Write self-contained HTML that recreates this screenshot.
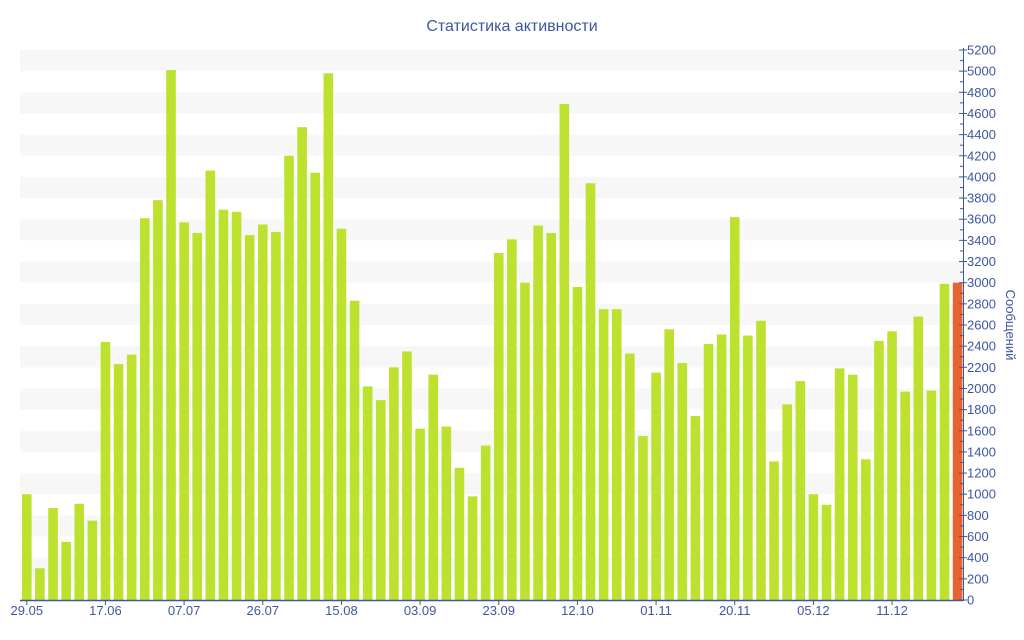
<!DOCTYPE html>
<html><head><meta charset="utf-8"><style>
html,body{margin:0;padding:0;background:#fff;}
svg{display:block;font-family:"Liberation Sans","DejaVu Sans",sans-serif;}
</style></head><body>
<svg id="c" width="1024" height="640" viewBox="0 0 1024 640" xmlns="http://www.w3.org/2000/svg">
<text x="512" y="31" text-anchor="middle" font-size="16" fill="#3e56a0">Статистика активности</text>
<text transform="translate(1006,325) rotate(90)" text-anchor="middle" font-size="13" fill="#3e56a0">Сообщений</text>
<g id="g"></g>
</svg>
<script>
var vals=[1000,300,870,550,910,750,2440,2230,2320,3610,3780,5010,3570,3470,4060,3690,3670,3450,3550,3480,4200,4470,4040,4980,3510,2830,2020,1890,2200,2350,1620,2130,1640,1250,980,1460,3280,3410,3000,3540,3470,4690,2960,3940,2750,2750,2330,1550,2150,2560,2240,1740,2420,2510,3620,2500,2640,1310,1850,2070,1000,900,2190,2130,1330,2450,2540,1970,2680,1980,2990,3000];
var labels=["29.05","17.06","07.07","26.07","15.08","03.09","23.09","12.10","01.11","20.11","05.12","11.12"];
var s="",k=550/5200,y0=600;
function Y(v){return y0-v*k;}
for(var v=200;v<5200;v+=400){s+='<rect x="20" y="'+Y(v+200)+'" width="943" height="'+(200*k)+'" fill="#f7f7f7"/>';}
for(var i=0;i<vals.length;i++){var x=22+i*13.11;var c=i==vals.length-1?"#e8642e":"#bde12f";
s+='<rect x="'+x.toFixed(2)+'" y="'+Y(vals[i]).toFixed(2)+'" width="9.6" height="'+(vals[i]*k).toFixed(2)+'" fill="'+c+'"/>';}
s+='<line x1="20" y1="600.5" x2="963" y2="600.5" stroke="#3e56a0" stroke-width="1.5"/>';
s+='<line x1="963.5" y1="48" x2="963.5" y2="601" stroke="#3e56a0" stroke-width="1"/>';
for(var v=0;v<=5200;v+=100){var yy=Y(v);var maj=v%200==0;
s+='<line x1="'+(maj?959:960)+'" y1="'+yy+'" x2="'+(maj?967:963)+'" y2="'+yy+'" stroke="#3e56a0" stroke-width="1"/>';
if(maj)s+='<text x="967" y="'+(yy+4.5)+'" font-size="13" fill="#3e56a0">'+v+'</text>';}
for(var j=0;j<labels.length;j++){var cx=22+j*6*13.11+4.8;
s+='<line x1="'+cx+'" y1="600" x2="'+cx+'" y2="605" stroke="#3e56a0"/>';
s+='<text x="'+cx+'" y="615" text-anchor="middle" font-size="13" fill="#3e56a0">'+labels[j]+'</text>';}
document.getElementById("g").innerHTML=s;
</script>
</body></html>
